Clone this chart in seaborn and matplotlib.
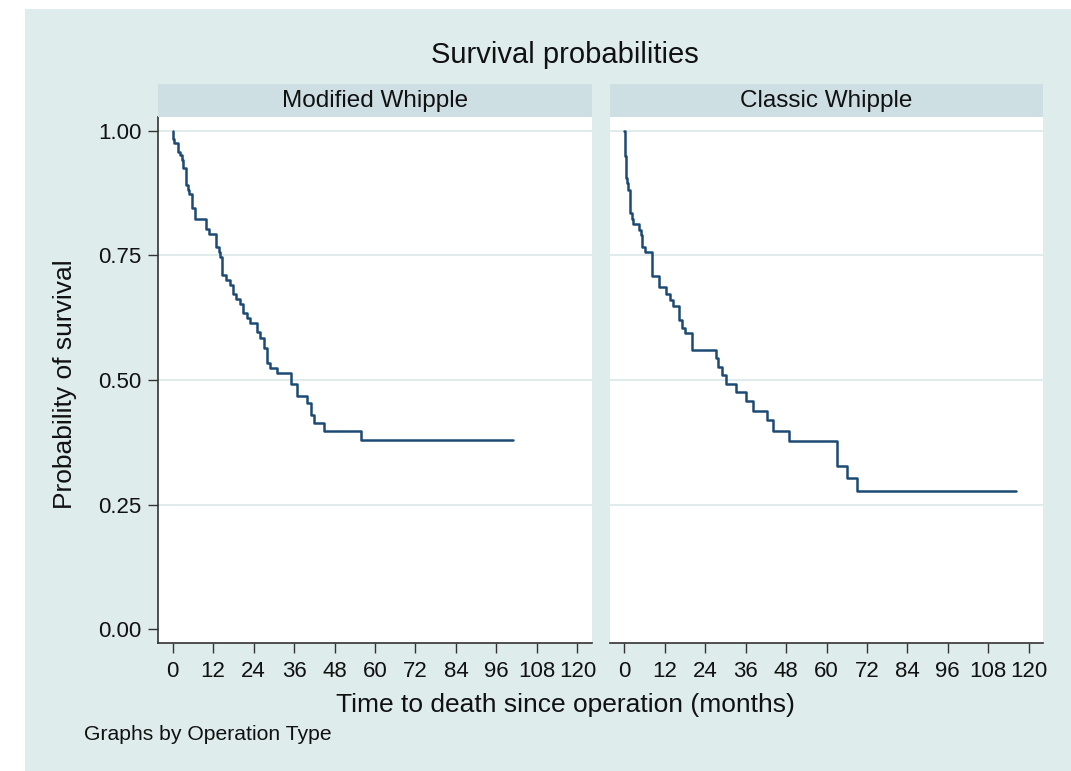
import numpy as np
import pandas as pd
import matplotlib
matplotlib.use("Agg")
import matplotlib.pyplot as plt
from matplotlib.patches import Rectangle
import seaborn as sns

# ---------------- data ----------------
panel_names = ["Modified Whipple", "Classic Whipple"]

mod_time = [0, 0.1, 0.2, 0.3, 1.6, 2.3, 2.7, 3.1, 3.9, 4.7, 5.0, 5.8, 6.7, 9.8,
            10.8, 13.0, 13.8, 14.2, 14.8, 15.9, 17.1, 17.9, 18.8, 19.9, 20.9,
            22.0, 23.0, 25.0, 26.0, 27.0, 28.0, 29.0, 31.0, 35.0, 36.9, 39.9,
            40.9, 41.9, 44.8, 55.8, 101.0]
mod_surv = [1.0, 0.99, 0.983, 0.975, 0.958, 0.952, 0.942, 0.925, 0.891, 0.881,
            0.873, 0.846, 0.823, 0.803, 0.794, 0.767, 0.757, 0.747, 0.710, 0.700,
            0.690, 0.673, 0.663, 0.653, 0.634, 0.624, 0.614, 0.596, 0.585, 0.564,
            0.534, 0.524, 0.514, 0.492, 0.467, 0.453, 0.429, 0.414, 0.398, 0.380,
            0.380]

cls_time = [0, 0.1, 0.15, 0.2, 0.25, 0.3, 0.4, 0.5, 0.6, 0.8, 1.0, 1.6, 2.3,
            2.6, 4.2, 4.8, 5.3, 6.1, 8.1, 10.4, 12.2, 13.4, 14.3, 16.3, 17.1,
            18.1, 20.1, 27.3, 27.9, 28.9, 30.1, 33.0, 36.0, 38.1, 42.2, 44.1,
            49.0, 63.1, 66.0, 69.0, 116.4]
cls_surv = [1.0, 0.99, 0.98, 0.97, 0.96, 0.95, 0.935, 0.92, 0.905, 0.895, 0.881,
            0.836, 0.824, 0.813, 0.802, 0.791, 0.767, 0.756, 0.709, 0.686, 0.673,
            0.660, 0.648, 0.620, 0.605, 0.594, 0.561, 0.545, 0.527, 0.510, 0.492,
            0.475, 0.457, 0.437, 0.419, 0.398, 0.377, 0.328, 0.304, 0.278, 0.278]

x_ticks = list(range(0, 121, 12))
y_ticks = [0.0, 0.25, 0.50, 0.75, 1.00]
y_tick_labels = ["0.00", "0.25", "0.50", "0.75", "1.00"]

title_text = "Survival probabilities"
x_label = "Time to death since operation (months)"
y_label = "Probability of survival"
note_text = "Graphs by Operation Type"

df = pd.concat([
    pd.DataFrame({"time": mod_time, "surv": mod_surv, "panel": panel_names[0]}),
    pd.DataFrame({"time": cls_time, "surv": cls_surv, "panel": panel_names[1]}),
], ignore_index=True)

# ---------------- style ----------------
sns.set_theme(style="white")
plt.rcParams["font.family"] = ["Liberation Sans", "DejaVu Sans"]

BG = "#DFECEC"
STRIP = "#CEDFE4"
GRID = "#DDE9E9"
LINE = "#1C4A74"
AXC = "#333333"
TXT = "#111111"

W, H = 1071, 771
fig = plt.figure(figsize=(W / 100, H / 100), dpi=100)
fig.patch.set_facecolor("white")
fig.patches.append(Rectangle((25 / W, 0), (W - 25) / W, (H - 9) / H,
                             transform=fig.transFigure, facecolor=BG,
                             edgecolor="none", zorder=-10))


def px_rect(x0, y0, x1, y1):
    return [x0 / W, (H - y1) / H, (x1 - x0) / W, (y1 - y0) / H]


panel_x = [(158, 592), (610, 1043)]
for i, (name, (x0, x1)) in enumerate(zip(panel_names, panel_x)):
    ax = fig.add_axes(px_rect(x0, 117, x1, 643))
    ax.set_facecolor("white")
    sub = df[df["panel"] == name]
    sns.lineplot(data=sub, x="time", y="surv", drawstyle="steps-post",
                 estimator=None, sort=False, color=LINE, lw=1.8, ax=ax)
    ax.set_xlim(-4.3, 124.3)
    ax.set_ylim(-0.028, 1.028)
    for yv in y_ticks[1:]:
        ax.axhline(yv, color=GRID, lw=1.3, zorder=0)
    ax.set_xticks(x_ticks)
    ax.set_xticklabels([str(t) for t in x_ticks], fontsize=16, color=TXT)
    ax.tick_params(axis="x", direction="out", length=7, width=1, color=AXC,
                   pad=6, bottom=True)
    for s in ["top", "right"]:
        ax.spines[s].set_visible(False)
    ax.spines["bottom"].set_color(AXC)
    ax.spines["bottom"].set_linewidth(1.2)
    if i == 0:
        ax.set_yticks(y_ticks)
        ax.set_yticklabels(y_tick_labels, fontsize=16, color=TXT)
        ax.tick_params(axis="y", direction="out", length=7, width=1, color=AXC,
                       pad=5, left=True)
        ax.spines["left"].set_color(AXC)
        ax.spines["left"].set_linewidth(1.2)
    else:
        ax.set_yticks([])
        ax.spines["left"].set_visible(False)
    ax.set_xlabel("")
    ax.set_ylabel("")
    ax.grid(False)

    sax = fig.add_axes(px_rect(x0, 84, x1, 117))
    sax.set_facecolor(STRIP)
    sax.set_xticks([])
    sax.set_yticks([])
    for s in sax.spines.values():
        s.set_visible(False)
    sax.text(0.5, 0.47, name, ha="center", va="center", fontsize=17.5,
             color=TXT, transform=sax.transAxes)

fig.text(565 / W, 1 - 55 / H, title_text, ha="center", va="center",
         fontsize=21, color=TXT)
fig.text(565 / W, 1 - 705 / H, x_label, ha="center", va="center",
         fontsize=19, color=TXT)
fig.text(65 / W, 1 - 384 / H, y_label, ha="center", va="center",
         rotation=90, fontsize=19, color=TXT)
fig.text(84 / W, 1 - 735 / H, note_text, ha="left", va="center",
         fontsize=15.2, color=TXT)

fig.savefig("out.png", dpi=100)
